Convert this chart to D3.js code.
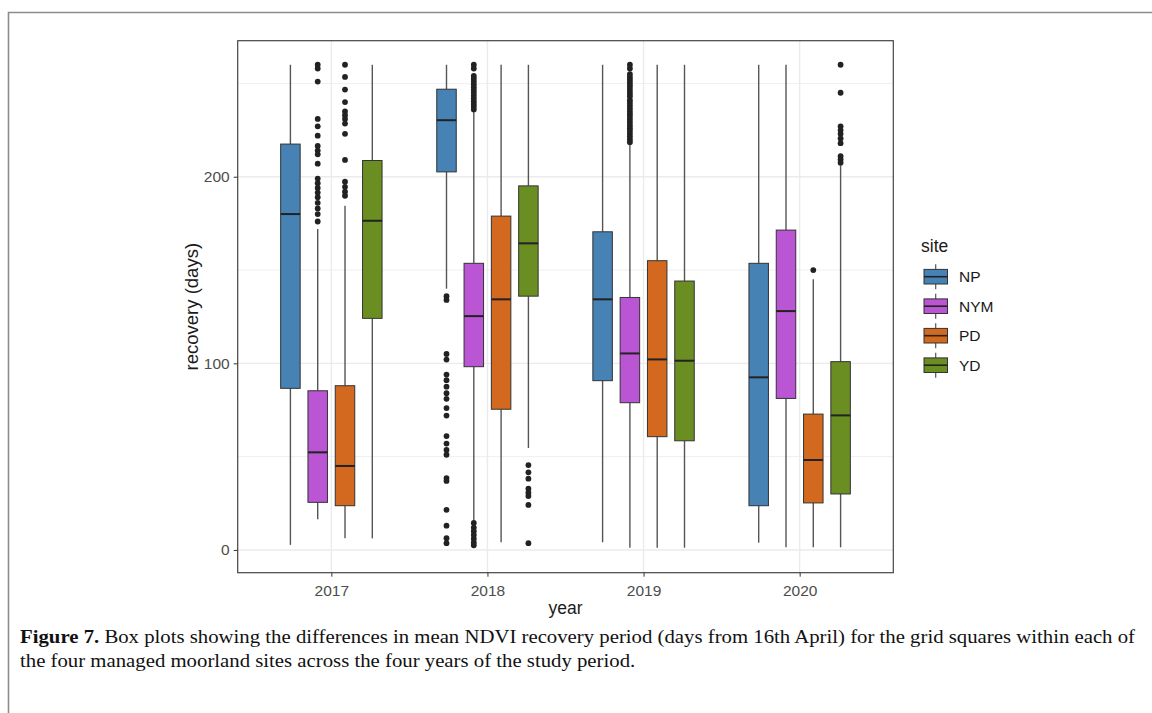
<!DOCTYPE html>
<meta charset="utf-8">
<style>
body { margin: 0; background: #fff; }
svg { display: block; font-family: "Liberation Sans", Arial, sans-serif; }
.grid line { stroke: #ebebeb; }
.axis .domain { display: none; }
.axis line { stroke: #333; }
.axis text { fill: #4d4d4d; font-size: 15.5px; font-family: "Liberation Sans", Arial, sans-serif; }
.caption { font-family: "Liberation Serif", "Times New Roman", serif; font-size: 19px; fill: #111; }
</style>
<svg width="1152" height="713"></svg>
<script src="https://d3js.org/d3.v7.min.js"></script>
<script>

// categories
var years = ["2017", "2018", "2019", "2020"];
var sites = ["NP", "NYM", "PD", "YD"];
var siteColours = ["#4682b4", "#ba55d3", "#d2691e", "#6b8e23"];
var yTicks = [0, 100, 200];
var yMinor = [50, 150, 250];

// per site, one row per year: [lower whisker, Q1, median, Q3, upper whisker]
var npStats  = [[2.7, 86.6, 180, 217.5, 260], [140, 202.6, 230.3, 246.9, 260], [4.1, 90.7, 134.3, 170.5, 260], [3.9, 23.7, 92.5, 153.6, 260]];
var nymStats = [[16.4, 25.5, 52.3, 85.3, 172], [16, 98.2, 125.3, 153.6, 234.5], [1.2, 78.9, 105.3, 135.3, 217], [1.4, 81.2, 128, 171.4, 260]];
var pdStats  = [[6.2, 23.7, 45, 88, 184.4], [4.1, 75.4, 134.3, 178.9, 260], [1.2, 60.7, 102.1, 155, 260], [1.4, 25.2, 48.2, 72.8, 145]];
var ydStats  = [[6.2, 124.1, 176.4, 208.7, 260], [54.6, 136, 164.3, 195.1, 260], [1.2, 58.5, 101.4, 144.1, 260], [1.4, 30, 72.1, 100.9, 206]];

// outliers, one list per year
var npOutliers = [
  [],
  [136, 134, 105, 102, 94, 91, 87.5, 84, 81, 76, 72, 61, 57, 53.6, 51, 38.5, 37, 21.5, 13, 6.3, 3.6],
  [],
  []
];
var nymOutliers = [
  [260, 258, 251, 231, 227, 222, 216.5, 214, 212, 207, 199, 196.5, 194, 191.5, 189, 186, 183, 180, 176],
  [260, 258, 254, 252.5, 251, 249.5, 248, 246.5, 245, 243.5, 242, 240.5, 239, 237.5, 236, 14.5, 12, 10, 8, 6, 4, 2.5],
  [260, 258, 255, 253.5, 252, 250.5, 249, 247.5, 246, 244.5, 243, 241, 239.5, 238, 236.5, 235, 233.5, 232, 230.5, 229, 227.5, 226, 224.5, 223, 221.5, 220, 218.5],
  []
];
var pdOutliers = [
  [260, 253.5, 246.7, 240, 235, 233, 231, 228.5, 223, 209, 197.3, 194.6, 192, 189.8],
  [],
  [],
  [150]
];
var ydOutliers = [
  [],
  [45.5, 41.6, 38.2, 32.8, 30.7, 28.9, 24.1, 3.6],
  [],
  [260, 245, 227, 225, 223, 220.5, 218, 211, 209.3, 207.5]
];

var statsBySite = [npStats, nymStats, pdStats, ydStats];
var outliersBySite = [npOutliers, nymOutliers, pdOutliers, ydOutliers];

var svg = d3.select("svg");

var panel = { left: 237.7, right: 893.3, top: 40.7, bottom: 572.7 };

var x = d3.scalePoint()
    .domain(years)
    .range([panel.left, panel.right])
    .padding(0.6);

var dodge = d3.scaleBand()
    .domain(sites)
    .range([-54.6, 54.6]);

var boxWidth = 19.5;

var y = d3.scaleLinear()
    .domain([-12.2, 272.9])
    .range([panel.bottom, panel.top]);

var colour = d3.scaleOrdinal()
    .domain(sites)
    .range(siteColours);

// outer figure frame
svg.append("path")
    .attr("d", "M1152,12.5H8.5V713")
    .attr("fill", "none")
    .attr("stroke", "#8c8c8c")
    .attr("stroke-width", 1.6);

// gridlines
var grid = svg.append("g").attr("class", "grid");

grid.selectAll("line.minor")
  .data(yMinor)
  .enter().append("line")
    .attr("class", "minor")
    .attr("x1", panel.left).attr("x2", panel.right)
    .attr("y1", function(d) { return y(d); })
    .attr("y2", function(d) { return y(d); })
    .attr("stroke-width", 0.8);

grid.selectAll("line.major")
  .data(yTicks)
  .enter().append("line")
    .attr("class", "major")
    .attr("x1", panel.left).attr("x2", panel.right)
    .attr("y1", function(d) { return y(d); })
    .attr("y2", function(d) { return y(d); })
    .attr("stroke-width", 1.4);

grid.selectAll("line.xmajor")
  .data(years)
  .enter().append("line")
    .attr("class", "xmajor")
    .attr("y1", panel.top).attr("y2", panel.bottom)
    .attr("x1", function(d) { return x(d); })
    .attr("x2", function(d) { return x(d); })
    .attr("stroke-width", 1.4);

// one record per box
var boxes = [];
sites.forEach(function(s, i) {
  years.forEach(function(yr, j) {
    var st = statsBySite[i][j];
    boxes.push({
      site: s, year: yr,
      lo: st[0], q1: st[1], med: st[2], q3: st[3], hi: st[4],
      outliers: outliersBySite[i][j]
    });
  });
});

function cx(d) { return x(d.year) + dodge(d.site) + dodge.bandwidth() / 2; }

var box = svg.append("g").selectAll("g")
    .data(boxes)
  .enter().append("g");

// whiskers
box.append("line")
    .attr("x1", cx).attr("x2", cx)
    .attr("y1", function(d) { return y(d.hi); })
    .attr("y2", function(d) { return y(d.q3); })
    .attr("stroke", "#555")
    .attr("stroke-width", 1.4);

box.append("line")
    .attr("x1", cx).attr("x2", cx)
    .attr("y1", function(d) { return y(d.q1); })
    .attr("y2", function(d) { return y(d.lo); })
    .attr("stroke", "#555")
    .attr("stroke-width", 1.4);

box.append("rect")
    .attr("x", function(d) { return cx(d) - boxWidth / 2; })
    .attr("width", boxWidth)
    .attr("y", function(d) { return y(d.q3); })
    .attr("height", function(d) { return y(d.q1) - y(d.q3); })
    .attr("fill", function(d) { return colour(d.site); })
    .attr("stroke", "#333")
    .attr("stroke-width", 1);

box.append("line")
    .attr("x1", function(d) { return cx(d) - boxWidth / 2; })
    .attr("x2", function(d) { return cx(d) + boxWidth / 2; })
    .attr("y1", function(d) { return y(d.med); })
    .attr("y2", function(d) { return y(d.med); })
    .attr("stroke", "#222")
    .attr("stroke-width", 2);

box.selectAll("circle")
    .data(function(d) { return d.outliers.map(function(v) { return { v: v, x: cx(d) }; }); })
  .enter().append("circle")
    .attr("cx", function(d) { return d.x; })
    .attr("cy", function(d) { return y(d.v); })
    .attr("r", 2.9)
    .attr("fill", "#222");

// panel border
svg.append("rect")
    .attr("x", panel.left).attr("y", panel.top)
    .attr("width", panel.right - panel.left)
    .attr("height", panel.bottom - panel.top)
    .attr("fill", "none")
    .attr("stroke", "#444")
    .attr("stroke-width", 1.2);

// axes
svg.append("g")
    .attr("class", "axis")
    .attr("transform", "translate(" + panel.left + ",0)")
    .call(d3.axisLeft(y).tickValues(yTicks).tickSize(4).tickPadding(4));

svg.append("g")
    .attr("class", "axis")
    .attr("transform", "translate(0," + panel.bottom + ")")
    .call(d3.axisBottom(x).tickSize(4).tickPadding(8));

svg.append("text")
    .attr("transform", "translate(198," + (panel.top + panel.bottom) / 2 + ") rotate(-90)")
    .attr("text-anchor", "middle")
    .attr("font-size", 18.5)
    .attr("fill", "#1a1a1a")
    .text("recovery (days)");

svg.append("text")
    .attr("x", (panel.left + panel.right) / 2)
    .attr("y", 614)
    .attr("text-anchor", "middle")
    .attr("font-size", 17.5)
    .attr("fill", "#1a1a1a")
    .text("year");

// legend
var legend = svg.append("g").attr("transform", "translate(921,0)");

legend.append("text")
    .attr("x", 0).attr("y", 252)
    .attr("font-size", 17.5)
    .attr("fill", "#1a1a1a")
    .text("site");

var key = legend.selectAll("g.key")
    .data(sites)
  .enter().append("g")
    .attr("class", "key")
    .attr("transform", function(d, i) { return "translate(0," + (276.7 + i * 29.5) + ")"; });

key.append("line")
    .attr("x1", 14.7).attr("x2", 14.7)
    .attr("y1", -12.5).attr("y2", 12.5)
    .attr("stroke", "#555")
    .attr("stroke-width", 1.2);

key.append("rect")
    .attr("x", 3).attr("y", -7.3)
    .attr("width", 23.5).attr("height", 14.6)
    .attr("fill", function(d) { return colour(d); })
    .attr("stroke", "#333");

key.append("line")
    .attr("x1", 3).attr("x2", 26.5)
    .attr("y1", 0).attr("y2", 0)
    .attr("stroke", "#222")
    .attr("stroke-width", 1.6);

key.append("text")
    .attr("x", 38).attr("y", 5.5)
    .attr("font-size", 15.5)
    .attr("fill", "#1a1a1a")
    .text(function(d) { return d; });

// caption
var line1 = svg.append("text")
    .attr("class", "caption")
    .attr("x", 20).attr("y", 643);
line1.append("tspan").attr("font-weight", "bold").text("Figure 7.");
line1.append("tspan").text(" Box plots showing the differences in mean NDVI recovery period (days from 16th April) for the grid squares within each of");

var line2 = svg.append("text")
    .attr("class", "caption")
    .attr("x", 20).attr("y", 667)
    .text("the four managed moorland sites across the four years of the study period.");

var squeeze = 1115 / line1.node().getComputedTextLength();
line1.attr("textLength", 1115).attr("lengthAdjust", "spacingAndGlyphs");
line2.attr("textLength", line2.node().getComputedTextLength() * squeeze).attr("lengthAdjust", "spacingAndGlyphs");

</script>
